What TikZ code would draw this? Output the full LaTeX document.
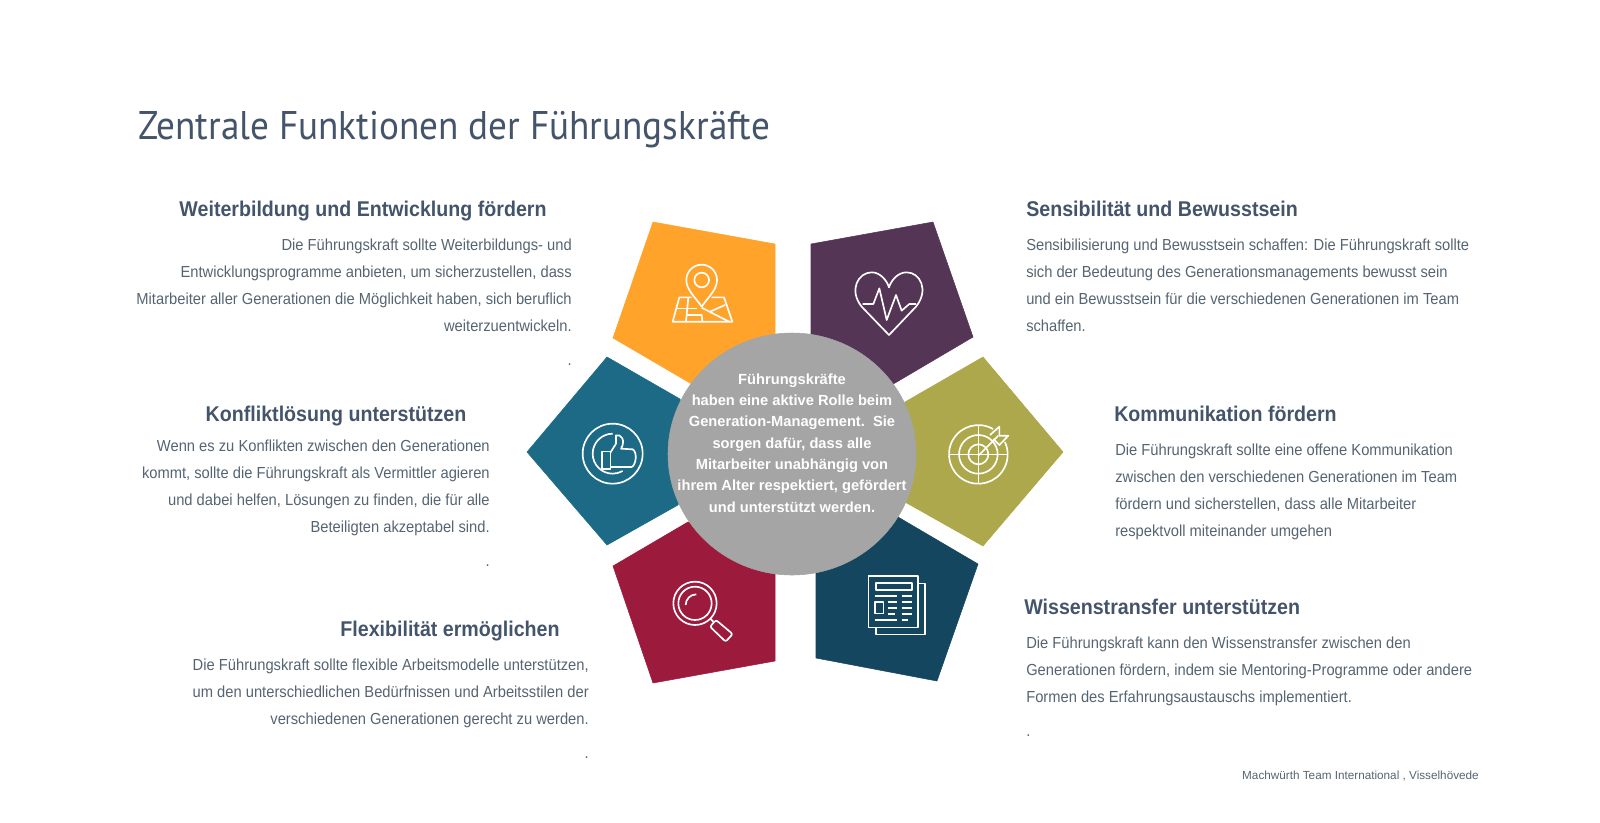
\documentclass[tikz,border=0pt]{standalone}
\usepackage{fontspec}
\setmainfont{Liberation Sans}
\newfontfamily\titlefont[FakeStretch=0.93]{PT Sans}
\newfontfamily\copyfont[FakeStretch=0.92]{Liberation Sans}
\definecolor{slate}{HTML}{44546A}
\definecolor{bodygrey}{HTML}{566472}
\definecolor{orangepent}{HTML}{FFA32B}
\definecolor{purplepent}{HTML}{553555}
\definecolor{olivepent}{HTML}{ADA84B}
\definecolor{tealpent}{HTML}{1C6A85}
\definecolor{crimsonpent}{HTML}{9C1A3C}
\definecolor{navypent}{HTML}{15465F}
\definecolor{hubgrey}{HTML}{A5A5A5}
\tikzset{
  headline/.style={inner sep=0pt, text=slate, font=\fontsize{16}{20}\selectfont\copyfont\bfseries},
  bodyleft/.style={inner sep=0pt, anchor=north west, align=left, text=bodygrey, font=\fontsize{12}{20.25}\selectfont\copyfont},
  bodyright/.style={inner sep=0pt, anchor=north east, align=right, text=bodygrey, font=\fontsize{12}{20.25}\selectfont\copyfont},
  iconline/.style={draw=white, line width=1.25pt, line join=round},
  iconbox/.style={x=0.25pt, y=-0.25pt},
}
\begin{document}
\begin{tikzpicture}[x=0.75pt, y=-0.75pt]
\useasboundingbox (0,0) rectangle (1600,822);

\draw [draw=orangepent, fill=orangepent] (653,222) -- (775,244) -- (775,420) -- (690,383) -- (613,338) -- cycle; % map
\draw [draw=purplepent, fill=purplepent] (811,244) -- (933,222) -- (973,337) -- (895,383) -- (811,420) -- cycle; % heart
\draw [draw=olivepent, fill=olivepent] (983,357) -- (1063,452) -- (983,546) -- (905,502) -- (880,450) -- (905,402) -- cycle; % target
\draw [draw=tealpent, fill=tealpent] (607,357) -- (527,452) -- (607,545) -- (678,505) -- (700,450) -- (680,399) -- cycle; % thumb
\draw [draw=crimsonpent, fill=crimsonpent] (613,566) -- (688,522) -- (775,530) -- (775,661) -- (653,683) -- cycle; % lens
\draw [draw=navypent, fill=navypent] (898,517) -- (978,564) -- (937,681) -- (816,658) -- (816,530) -- cycle; % news

\draw [fill=hubgrey, draw=hubgrey] (792,454) ellipse (124 and 121); % hub
\node (hubText) at (792,443) [inner sep=0pt, align=center, text=white, font=\fontsize{11}{16}\selectfont\bfseries] {Führungskräfte\\haben eine aktive Rolle beim\\Generation-Management.\ \ Sie\\sorgen dafür, dass alle\\Mitarbeiter unabhängig von\\ihrem Alter respektiert, gefördert\\und unterstützt werden.};

% map icon
\begin{scope}[shift={(660,255)}, iconbox]
\draw [iconline] (125,155) .. controls (105,125) and (79,105) .. (79,75) arc [start angle=180, end angle=360, radius=46] .. controls (171,105) and (145,125) .. (125,155) -- cycle;
\draw [iconline] (125,75) circle [radius=22];
\draw [iconline] (95,127) -- (58,127) -- (38,200) -- (217,200) -- (192,127) -- (155,127);
\draw [iconline] (50,160) -- (112,160);
\draw [iconline] (125,158) -- (207,200);
\draw [iconline] (85,127) -- (78,200);
\draw [iconline] (80,180) -- (125,180) -- (127,200);
\draw [iconline] (150,170) -- (195,150);
\end{scope}

% heart icon
\begin{scope}[shift={(790,200)}, iconbox]
\draw [iconline] (297,405) -- (215,320) .. controls (175,270) and (205,217) .. (245,217) .. controls (270,217) and (290,240) .. (297,262) .. controls (304,240) and (324,217) .. (350,217) .. controls (390,217) and (418,270) .. (378,320) -- cycle;
\draw [iconline] (218,312) -- (250,312) -- (268,265) -- (290,360) -- (318,285) -- (335,332) -- (358,312) -- (378,312);
\end{scope}

% thumb icon
\begin{scope}[shift={(571,412)}, iconbox]
\draw [iconline] (125,125) circle [radius=90];
\draw [iconline] (125,65) arc [start angle=-90, end angle=-300, radius=60];
\draw [iconline] (92,118) rectangle (118,170);
\draw [iconline] (118,122) -- (135,95) -- (135,70) .. controls (150,65) and (165,85) .. (150,110) -- (185,112) .. controls (200,120) and (195,160) .. (182,165) -- (118,165);
\end{scope}

% target icon
\begin{scope}[shift={(940,415)}, iconbox]
\draw [iconline] (115,118) circle [radius=30];
\draw [iconline] (115,118) circle [radius=58];
\draw [iconline] (159,42) arc [start angle=-60, end angle=-385, radius=88];
\draw [iconline] (115,30) -- (115,208);
\draw [iconline] (28,118) -- (202,118);
\draw [iconline] (115,122) -- (175,62);
\draw [iconline] (150,60) -- (178,35) -- (178,62) -- (205,62) -- (178,90) -- (160,72);
\end{scope}

% lens icon
\begin{scope}[shift={(510,450)}, iconbox]
\draw [iconline] (555,460) circle [radius=65];
\draw [iconline] (555,460) circle [radius=50];
\draw [iconline] (527,465) arc [start angle=180, end angle=270, radius=32];
\draw [iconline] (600,505) -- (610,515);
\draw [iconline, rounded corners=1.5pt] (600,530) -- (618,510) -- (668,552) -- (647,575) -- cycle;
\end{scope}

% news icon
\begin{scope}[shift={(790,450)}, iconbox]
\draw [iconline] (235,378) rectangle (383,532);
\draw [iconline] (383,400) -- (405,400) -- (405,553) -- (257,553) -- (257,532);
\draw [iconline] (257,398) rectangle (365,420);
\draw [iconline] (255,437) -- (322,437);
\draw [iconline] (335,437) -- (365,437);
\draw [iconline] (255,455) rectangle (280,490);
\draw [iconline] (295,455) -- (322,455);
\draw [iconline] (335,455) -- (365,455);
\draw [iconline] (295,473) -- (322,473);
\draw [iconline] (335,473) -- (365,473);
\draw [iconline] (295,491) -- (315,491);
\draw [iconline] (335,491) -- (365,491);
\draw [iconline] (255,510) -- (322,510);
\draw [iconline] (335,510) -- (355,510);
\end{scope}

\node (pageTitle) at (138,130) [anchor=west, inner sep=0pt, text=slate, font=\fontsize{30}{36}\selectfont\titlefont] {Zentrale Funktionen der Führungskräfte};

\node (weiterHead) at (363,211) [headline] {Weiterbildung und Entwicklung fördern};
\node (weiterText) at (572,239) [bodyright] {Die Führungskraft sollte Weiterbildungs- und\\Entwicklungsprogramme anbieten, um sicherzustellen, dass\\Mitarbeiter aller Generationen die Möglichkeit haben, sich beruflich\\weiterzuentwickeln.\\[5pt].};
\node (sensiHead) at (1026,209) [headline, anchor=west] {Sensibilität und Bewusstsein};
\node (sensiText) at (1026,239) [bodyleft] {Sensibilisierung und Bewusstsein schaffen: Die Führungskraft sollte\\sich der Bedeutung des Generationsmanagements bewusst sein\\und ein Bewusstsein für die verschiedenen Generationen im Team\\schaffen.};
\node (konfliktHead) at (336,416) [headline] {Konfliktlösung unterstützen};
\node (konfliktText) at (490,440) [bodyright] {Wenn es zu Konflikten zwischen den Generationen\\kommt, sollte die Führungskraft als Vermittler agieren\\und dabei helfen, Lösungen zu finden, die für alle\\Beteiligten akzeptabel sind.\\[5pt].};
\node (kommHead) at (1114,414) [headline, anchor=west] {Kommunikation fördern};
\node (kommText) at (1115,444) [bodyleft] {Die Führungskraft sollte eine offene Kommunikation\\zwischen den verschiedenen Generationen im Team\\fördern und sicherstellen, dass alle Mitarbeiter\\respektvoll miteinander umgehen};
\node (flexHead) at (450,631) [headline] {Flexibilität ermöglichen};
\node (flexText) at (589,659) [bodyright] {Die Führungskraft sollte flexible Arbeitsmodelle unterstützen,\\um den unterschiedlichen Bedürfnissen und Arbeitsstilen der\\verschiedenen Generationen gerecht zu werden.\\[5pt].};
\node (wissenHead) at (1024,607) [headline, anchor=west] {Wissenstransfer unterstützen};
\node (wissenText) at (1026,637) [bodyleft] {Die Führungskraft kann den Wissenstransfer zwischen den\\Generationen fördern, indem sie Mentoring-Programme oder andere\\Formen des Erfahrungsaustauschs implementiert.\\[5pt].};

\node (footNote) at (1479,776) [anchor=east, inner sep=0pt, text=bodygrey, font=\fontsize{8.8}{10}\selectfont] {Machwürth Team International , Visselhövede};
\end{tikzpicture}
\end{document}
